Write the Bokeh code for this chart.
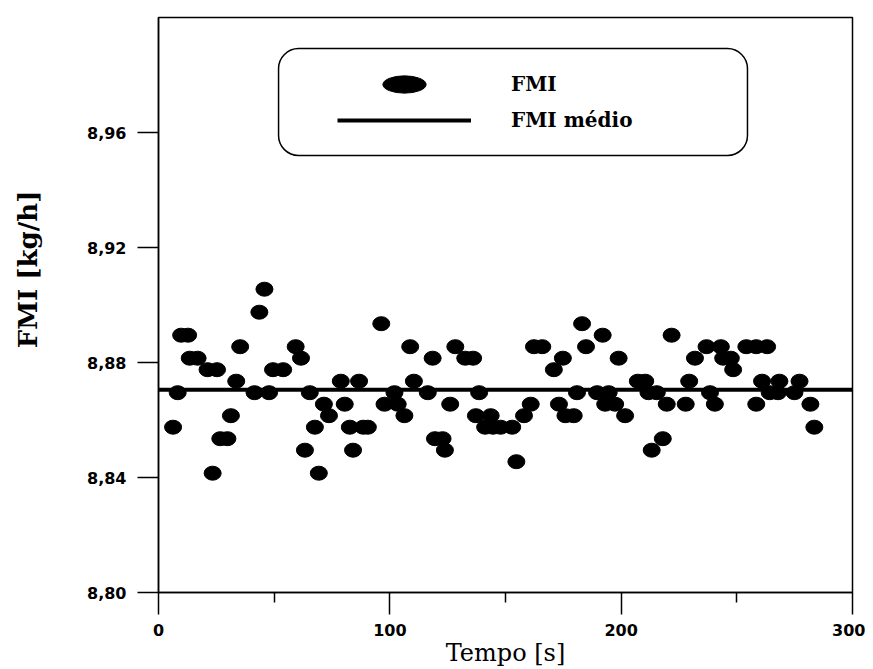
import math
from bokeh.plotting import figure
from bokeh.models import (Range1d, FixedTicker, CustomJSTickFormatter, Legend, LegendItem,
                          BoxAnnotation, Label)
from bokeh.embed import file_html
from bokeh.resources import INLINE

# ---- data ----
tempo = [6.3, 8.3, 9.8, 12.8, 13.5, 16.9, 21.2, 23.4, 25.3, 26.7, 29.8, 31.3, 33.6, 35.3,
         41.5, 43.6, 45.8, 47.8, 49.5, 53.9, 59.3, 61.6, 63.3, 65.4, 67.6, 69.3, 71.5, 73.7,
         78.8, 80.5, 82.7, 84.1, 86.7, 88.5, 90.5, 96.3, 97.7, 102.0, 103.4, 106.3, 108.8,
         110.4, 116.4, 118.5, 119.5, 122.8, 123.8, 126.1, 128.3, 132.6, 136.0, 137.2, 138.6,
         141.2, 143.6, 144.6, 147.9, 152.9, 154.7, 158.0, 160.9, 162.3, 165.9, 170.9, 173.1,
         174.8, 175.9, 179.5, 180.9, 183.1, 184.8, 189.6, 192.0, 193.1, 194.6, 197.4, 198.9,
         201.7, 207.2, 210.4, 211.8, 213.2, 215.4, 218.0, 219.7, 221.8, 227.9, 229.4, 231.9,
         236.9, 238.4, 240.5, 243.1, 244.1, 247.4, 248.4, 254.1, 258.4, 263.1, 258.4, 260.9,
         264.2, 267.8, 268.4, 274.9, 277.1, 281.8, 283.5]
fmi = [8.8575, 8.8695, 8.8895, 8.8895, 8.8815, 8.8815, 8.8775, 8.8415, 8.8775, 8.8535,
       8.8535, 8.8615, 8.8735, 8.8855, 8.8695, 8.8975, 8.9055, 8.8695, 8.8775, 8.8775,
       8.8855, 8.8815, 8.8495, 8.8695, 8.8575, 8.8415, 8.8655, 8.8615, 8.8735, 8.8655,
       8.8575, 8.8495, 8.8735, 8.8575, 8.8575, 8.8935, 8.8655, 8.8695, 8.8655, 8.8615,
       8.8855, 8.8735, 8.8695, 8.8815, 8.8535, 8.8535, 8.8495, 8.8655, 8.8855, 8.8815,
       8.8815, 8.8615, 8.8695, 8.8575, 8.8615, 8.8575, 8.8575, 8.8575, 8.8455, 8.8615,
       8.8655, 8.8855, 8.8855, 8.8775, 8.8655, 8.8815, 8.8615, 8.8615, 8.8695, 8.8935,
       8.8855, 8.8695, 8.8895, 8.8655, 8.8695, 8.8655, 8.8815, 8.8615, 8.8735, 8.8735,
       8.8695, 8.8495, 8.8695, 8.8535, 8.8655, 8.8895, 8.8655, 8.8735, 8.8815, 8.8855,
       8.8695, 8.8655, 8.8855, 8.8815, 8.8815, 8.8775, 8.8855, 8.8855, 8.8855, 8.8655,
       8.8735, 8.8695, 8.8695, 8.8735, 8.8695, 8.8735, 8.8655, 8.8575]
fmi_medio = 8.8705
x_ticks = [0, 100, 200, 300]
x_minor = [50, 150, 250]
y_ticks = [8.80, 8.84, 8.88, 8.92, 8.96]
x_limits = (0, 300)
y_limits = (8.80, 9.00)

p = figure(frame_width=694, frame_height=575, output_backend="svg", toolbar_location=None,
           x_range=Range1d(*x_limits), y_range=Range1d(*y_limits),
           min_border_left=158, min_border_top=17, min_border_right=13, min_border_bottom=70,
           background_fill_color="white", border_fill_color="white")
p.grid.visible = False
p.outline_line_color = "black"
p.outline_line_width = 1.5
p.outline_line_alpha = 1.0

# mean line
mean_r = p.line(x=list(x_limits), y=[fmi_medio, fmi_medio], line_color="black", line_width=4)
# data points
pts = p.ellipse(x=tempo, y=fmi, width=17, height=14, width_units="screen",
                height_units="screen", fill_color="black", line_color="black")
# legend-only glyph (wider ellipse, like the reference key)
leg_dot = p.ellipse(x=[float("nan")], y=[float("nan")], width=45, height=18,
                    width_units="screen", height_units="screen",
                    fill_color="black", line_color="black")

# axes
xa = p.xaxis[0]
xa.ticker = FixedTicker(ticks=x_ticks, minor_ticks=x_minor)
xa.major_tick_out = 22
xa.major_tick_in = 0
xa.minor_tick_out = 10
xa.minor_tick_in = 0
xa.axis_line_width = 1.5
xa.major_tick_line_width = 1.5
xa.minor_tick_line_width = 1.5
xa.major_label_standoff = 9
xa.major_label_text_font = "DejaVu Sans"
xa.major_label_text_font_style = "bold"
xa.major_label_text_font_size = "16px"
xa.major_label_text_color = "black"
xa.axis_label = "Tempo [s]"
xa.axis_label_text_font = "DejaVu Serif"
xa.axis_label_text_font_style = "normal"
xa.axis_label_text_font_size = "24px"
xa.axis_label_text_color = "black"
xa.axis_label_standoff = 0

ya = p.yaxis[0]
ya.ticker = FixedTicker(ticks=y_ticks, minor_ticks=[])
ya.formatter = CustomJSTickFormatter(code="return tick.toFixed(2).replace('.', ',')")
ya.major_tick_out = 21
ya.major_tick_in = 0
ya.minor_tick_out = 0
ya.minor_tick_in = 0
ya.axis_line_width = 1.5
ya.major_tick_line_width = 1.5
ya.major_label_standoff = 11
ya.major_label_text_font = "DejaVu Sans"
ya.major_label_text_font_style = "bold"
ya.major_label_text_font_size = "16px"
ya.major_label_text_color = "black"

# y-axis title placed in the left side panel (not clipped to the frame)
p.add_layout(Label(x=-56.6, y=8.9124, text="FMI [kg/h]", angle=math.pi / 2,
                   text_align="center", text_baseline="middle",
                   text_font="DejaVu Serif", text_font_style="bold",
                   text_font_size="26px", text_color="black"), "left")

# legend frame (rounded)
p.add_layout(BoxAnnotation(left=51.9, right=254.6, bottom=8.952, top=8.9892,
                           fill_color="white", fill_alpha=1.0, line_color="black",
                           line_alpha=1.0, line_width=1.5, border_radius=20,
                           level="annotation"))

common = dict(padding=0, margin=0, spacing=0, border_line_alpha=0, background_fill_alpha=0,
              glyph_width=134, label_standoff=40, label_text_font="DejaVu Serif",
              label_text_font_style="bold", label_text_font_size="20px",
              label_text_color="black")
leg1 = Legend(items=[LegendItem(label="FMI", renderers=[leg_dot])], location=(179, 481),
              glyph_height=54, label_height=54, **common)
leg2 = Legend(items=[LegendItem(label="FMI médio", renderers=[mean_r])], location=(179, 457),
              glyph_height=30, label_height=30, **common)
p.add_layout(leg1)
p.add_layout(leg2)

open("out.html", "w").write(file_html(p, INLINE))
